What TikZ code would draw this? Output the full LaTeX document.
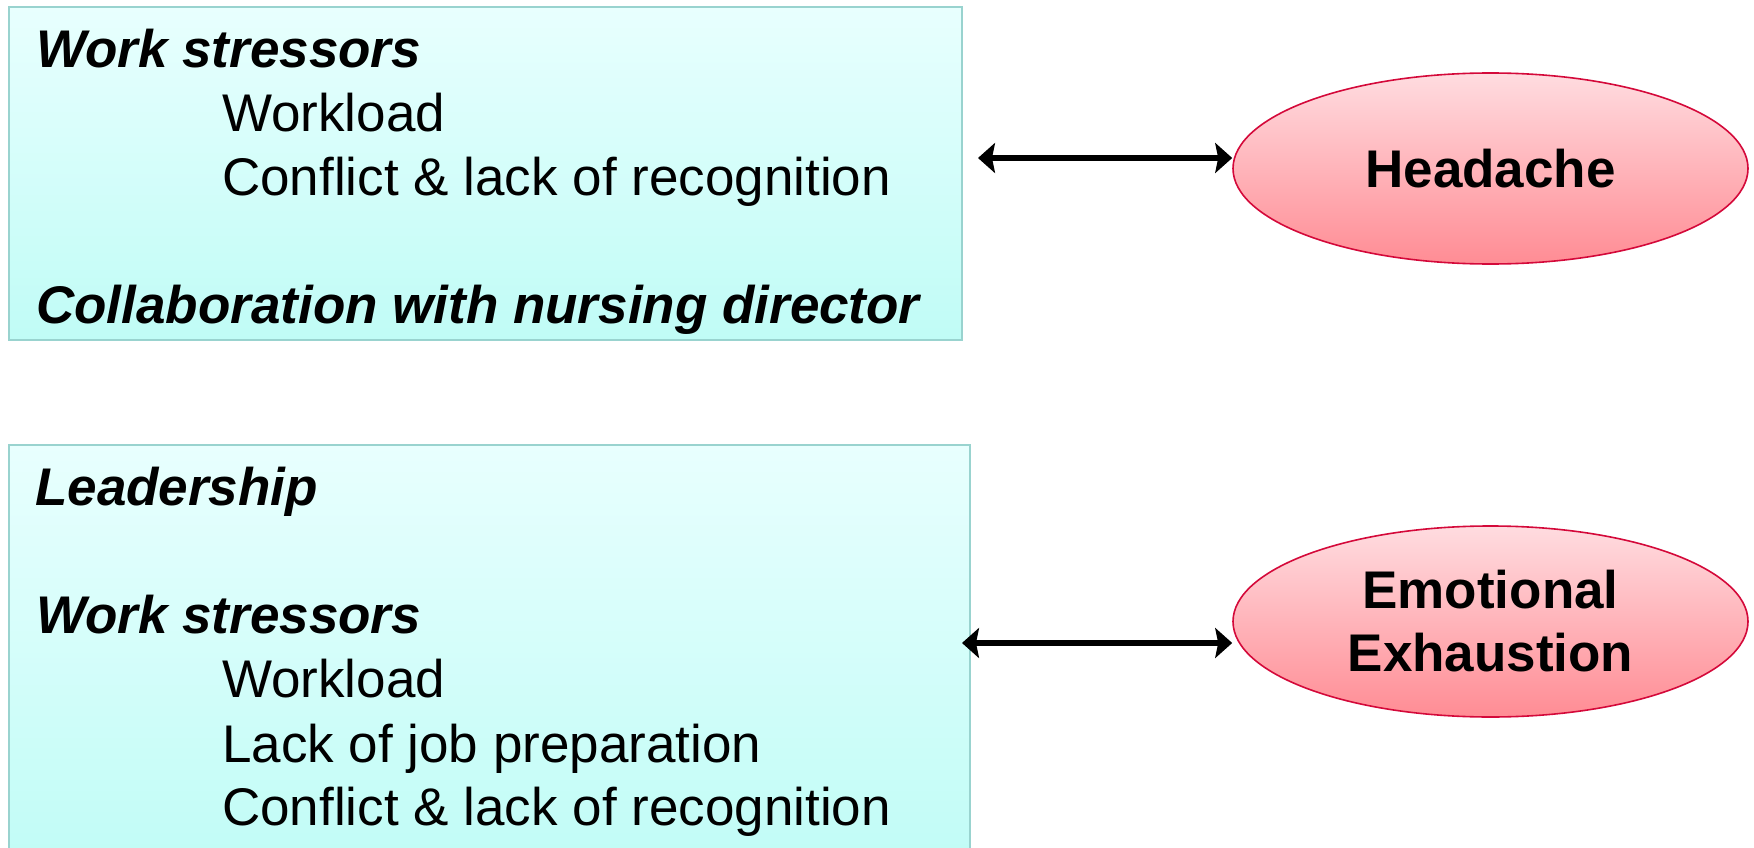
\documentclass[tikz,border=0pt]{standalone}
\usepackage{fontspec}
\setmainfont{Liberation Sans}
\usetikzlibrary{shapes.geometric,arrows.meta}
\definecolor{boxtop}{HTML}{E8FFFE}
\definecolor{boxbot}{HTML}{C0FCF6}
\definecolor{boxline}{HTML}{99D3CF}
\definecolor{elltop}{HTML}{FFDCE0}
\definecolor{ellbot}{HTML}{FF8C94}
\definecolor{ellline}{HTML}{D4093A}
\begin{document}
\begin{tikzpicture}[x=1pt,y=-1pt,
  factorbox/.style={draw=boxline,line width=1.6pt,top color=boxtop,bottom color=boxbot,rectangle,inner sep=0pt},
  outcome/.style={ellipse,draw=ellline,line width=1.6pt,top color=elltop,bottom color=ellbot,inner sep=0pt,
     minimum width=515pt,minimum height=191pt,align=center,font=\fontsize{53}{63}\selectfont\bfseries},
  head/.style={anchor=base west,inner sep=0pt,font=\fontsize{53}{63}\selectfont\bfseries\itshape},
  item/.style={anchor=base west,inner sep=0pt,font=\fontsize{53}{63}\selectfont},
  biarrow/.style={line width=5.5pt,{Stealth[length=17pt,width=30pt,inset=3pt]}-{Stealth[length=17pt,width=30pt,inset=3pt]}}]
\useasboundingbox (0,0) rectangle (1754,848);
% boxes
\node[factorbox,minimum width=953pt,minimum height=333pt] (box1) at (485.5,173.5) {};
\node[factorbox,minimum width=961pt,minimum height=425pt] (box2) at (489.5,657.5) {};
% top box text
\node[head] (t1) at (36,68) {Work stressors};
\node[item] (t2) at (222,132) {Workload};
\node[item] (t3) at (222,195) {Conflict \& lack of recognition};
\node[head] (t4) at (36,323) {Collaboration with nursing director};
% bottom box text
\node[head] (b1) at (35,505) {Leadership};
\node[head] (b2) at (36,633) {Work stressors};
\node[item] (b3) at (222,697) {Workload};
\node[item] (b4) at (222,762) {Lack of job preparation};
\node[item] (b5) at (222,825) {Conflict \& lack of recognition};
% outcomes
\node[outcome] (e1) at (1490.5,168.5) {Headache};
\node[outcome] (e2) at (1490.5,621.5) {Emotional\\Exhaustion};
% connectors
\coordinate (a1) at (978,158);
\coordinate (a2) at (962,643);
\draw[biarrow] (a1) -- (a1 -| e1.west);
\draw[biarrow] (a2) -- (a2 -| e2.west);
\end{tikzpicture}
\end{document}
